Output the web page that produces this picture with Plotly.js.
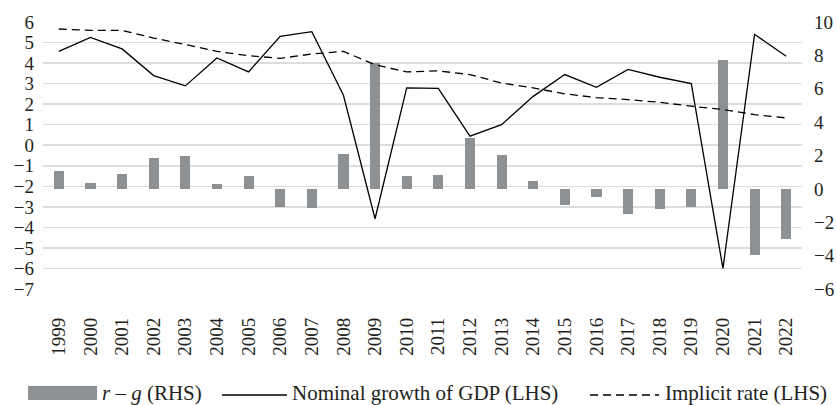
<!DOCTYPE html>
<html>
<head>
<meta charset="utf-8">
<script src="https://cdn.plot.ly/plotly-3.0.1.min.js"></script>
<style>html,body{margin:0;padding:0;background:#fff;}#chart{width:837px;height:405px;}</style>
</head>
<body>
<div id="chart"></div>
<script>
const years = ['1999','2000','2001','2002','2003','2004','2005','2006','2007','2008','2009','2010',
  '2011','2012','2013','2014','2015','2016','2017','2018','2019','2020','2021','2022'];
// r - g (RHS)
const rMinusG = [1.1,0.36,0.92,1.84,2.0,0.32,0.8,-1.06,-1.12,2.1,7.54,0.78,
  0.84,3.04,2.02,0.46,-0.94,-0.48,-1.5,-1.2,-1.1,7.74,-3.94,-2.98];
// Nominal growth of GDP (LHS)
const nominalGrowth = [4.57,5.25,4.69,3.39,2.89,4.25,3.57,5.3,5.53,2.43,-3.58,2.79,
  2.77,0.44,1.0,2.38,3.44,2.82,3.69,3.31,3.0,-6.0,5.4,4.33];
// Implicit rate (LHS)
const implicitRate = [5.66,5.59,5.59,5.22,4.9,4.57,4.36,4.23,4.44,4.57,3.92,3.57,
  3.62,3.44,3.03,2.79,2.5,2.32,2.22,2.09,1.9,1.74,1.49,1.33];

const FONT = 'Liberation Serif, Times New Roman, serif';
const TXT = '#231f20';
const BARC = '#8e9194';

const traces = [
  {type:'bar', x:years, y:rMinusG, yaxis:'y', marker:{color:BARC}, width:0.32, name:'r – g (RHS)', hoverinfo:'x+y'},
  {type:'scatter', mode:'lines', x:years, y:nominalGrowth, yaxis:'y2', line:{color:'#000', width:1.3}, name:'Nominal growth of GDP (LHS)'},
  {type:'scatter', mode:'lines', x:years, y:implicitRate, yaxis:'y2', line:{color:'#000', width:1.3, dash:'8px,5px'}, name:'Implicit rate (LHS)'}
];

const L = 43, W = 759, T = 22, H = 267;
function px(x){return (x-L)/W;}
function py(y){return (T+H-y)/H;}

const layout = {
  width:837, height:405,
  margin:{l:L, r:837-L-W, t:T, b:405-T-H, pad:0},
  paper_bgcolor:'#fff', plot_bgcolor:'rgba(0,0,0,0)',
  showlegend:false,
  font:{family:FONT, size:19, color:TXT},
  bargap:0,
  xaxis:{type:'category', tickangle:-90, showgrid:false, zeroline:false, showline:false,
    ticks:'', ticklabelstandoff:24, tickfont:{family:FONT, size:19, color:TXT}, fixedrange:true},
  yaxis:{side:'right', range:[-6,10], dtick:2, tick0:0, showgrid:false, zeroline:false, showline:false,
    ticks:'', ticklabelstandoff:11, tickfont:{family:FONT, size:19, color:TXT}},
  yaxis2:{side:'left', overlaying:'y', range:[-7,6], dtick:1, tick0:0, showgrid:true, gridcolor:'#dcdcdc', gridwidth:1.5,
    zeroline:false, showline:false, ticks:'', ticklabelstandoff:8, tickfont:{family:FONT, size:19, color:TXT}},
  shapes:[
    {type:'rect', xref:'paper', yref:'paper', x0:px(28), x1:px(97), y0:py(400), y1:py(386), fillcolor:BARC, line:{width:0}},
    {type:'line', xref:'paper', yref:'paper', x0:px(222), x1:px(287), y0:py(395), y1:py(395), line:{color:'#000', width:1.3}},
    {type:'line', xref:'paper', yref:'paper', x0:px(590), x1:px(659), y0:py(395), y1:py(395), line:{color:'#000', width:1.3, dash:'8px,5px'}}
  ],
  annotations:[
    {xref:'paper', yref:'paper', x:px(100), y:py(393), xanchor:'left', yanchor:'middle', showarrow:false, text:'<i>r</i> – <i>g</i> (RHS)', font:{family:FONT, size:21, color:TXT}},
    {xref:'paper', yref:'paper', x:px(290), y:py(393), xanchor:'left', yanchor:'middle', showarrow:false, text:'Nominal growth of GDP (LHS)', font:{family:FONT, size:21, color:TXT}},
    {xref:'paper', yref:'paper', x:px(663), y:py(393), xanchor:'left', yanchor:'middle', showarrow:false, text:'Implicit rate (LHS)', font:{family:FONT, size:21, color:TXT}}
  ]
};

Plotly.newPlot('chart', traces, layout, {displayModeBar:false, staticPlot:true});
</script>
</body>
</html>
